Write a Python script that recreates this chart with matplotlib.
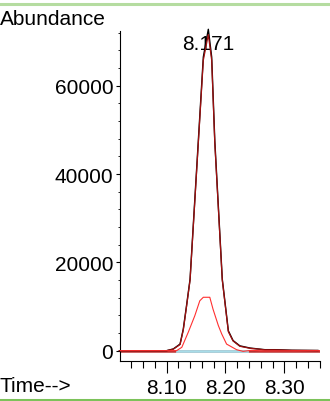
import matplotlib.pyplot as plt
from matplotlib.ticker import MultipleLocator

plt.rcParams['font.family'] = ['Liberation Sans', 'DejaVu Sans']

# total ion chromatogram (black) and its overlay (dark red)
tic_time = [8.020, 8.100, 8.1116, 8.123, 8.1285, 8.134, 8.140, 8.154, 8.1625, 8.171,
            8.1767, 8.182, 8.1947, 8.205, 8.213, 8.2245, 8.2418, 8.267, 8.284, 8.3125, 8.357]
tic_abund = [0, 0, 400, 1500, 4900, 10200, 16200, 47500, 66500, 72800,
             66500, 47500, 16200, 4500, 2300, 1100, 600, 230, 230, 100, 50]
ovl_abund = [0, 0, 350, 1400, 4700, 10000, 16000, 47000, 65800, 71600,
             65800, 47000, 16000, 4300, 2200, 1000, 550, 200, 200, 80, 40]

# extracted ion (red)
ion_time = [8.020, 8.117, 8.126, 8.137, 8.148, 8.1565, 8.1625, 8.1735, 8.179, 8.188,
            8.1937, 8.202, 8.219, 8.230, 8.245, 8.260, 8.3606]
ion_abund = [0, 0, 770, 4200, 7900, 11300, 12100, 12100, 9400, 5700,
             3800, 1500, 230, -150, 100, -50, 0]

# integration baseline (light blue) and drawn zero line
base_time = [8.118, 8.236]
zero_time = [8.020, 8.3606]

peak_label = '8.171'
xticks = [8.10, 8.20, 8.30]
yticks = [0, 20000, 40000, 60000]

W, H = 330, 402
fig = plt.figure(figsize=(W / 100, H / 100), dpi=100)
ax = fig.add_axes([119.5 / W, 1 - 361.5 / H, (320 - 119.5) / W, (361.5 - 32) / H])

ax.plot(zero_time, [0, 0], color='#b83232', lw=1.8, zorder=1)
ax.plot(base_time, [0, 0], color='#a8dce8', lw=2.0, zorder=2)
ax.plot(tic_time, tic_abund, color='black', lw=1.0, zorder=3, clip_on=False)
ax.plot(tic_time, ovl_abund, color='#a01010', lw=0.9, zorder=4, clip_on=False)
ax.plot(ion_time, ion_abund, color='#ff3030', lw=0.8, zorder=5)

ax.set_xlim(8.0202, 8.3606)
ax.set_ylim(-2220, 72410)

ax.spines['top'].set_visible(False)
ax.spines['right'].set_visible(False)
for s in ('left', 'bottom'):
    ax.spines[s].set_linewidth(0.8)

ax.set_xticks(xticks)
ax.set_xticklabels(['%.2f' % t for t in xticks])
ax.xaxis.set_minor_locator(MultipleLocator(0.02))
ax.set_yticks(yticks)
ax.yaxis.set_minor_locator(MultipleLocator(4000))

ax.tick_params(axis='x', which='major', length=8.4, width=0.8, pad=4, labelsize=15)
ax.tick_params(axis='x', which='minor', length=4.8, width=0.8)
ax.tick_params(axis='y', which='major', length=3, width=0.8, pad=1.5, labelsize=15)
ax.tick_params(axis='y', which='minor', length=1.8, width=0.6)

ax.text(8.171, 71700, peak_label, ha='center', va='top', fontsize=15, zorder=2)

fig.text(0, 1 - 25 / H, 'Abundance', ha='left', va='baseline', fontsize=15)
fig.text(0, 1 - 392.5 / H, 'Time-->', ha='left', va='baseline', fontsize=15)

fig.add_artist(plt.Line2D([0, 1], [1 - 4.5 / H] * 2, color='#b5dca0', lw=2.2))
fig.add_artist(plt.Line2D([0, 1], [1 - 400.5 / H] * 2, color='#7cc25a', lw=2.2))

fig.savefig('out.png', dpi=100)
